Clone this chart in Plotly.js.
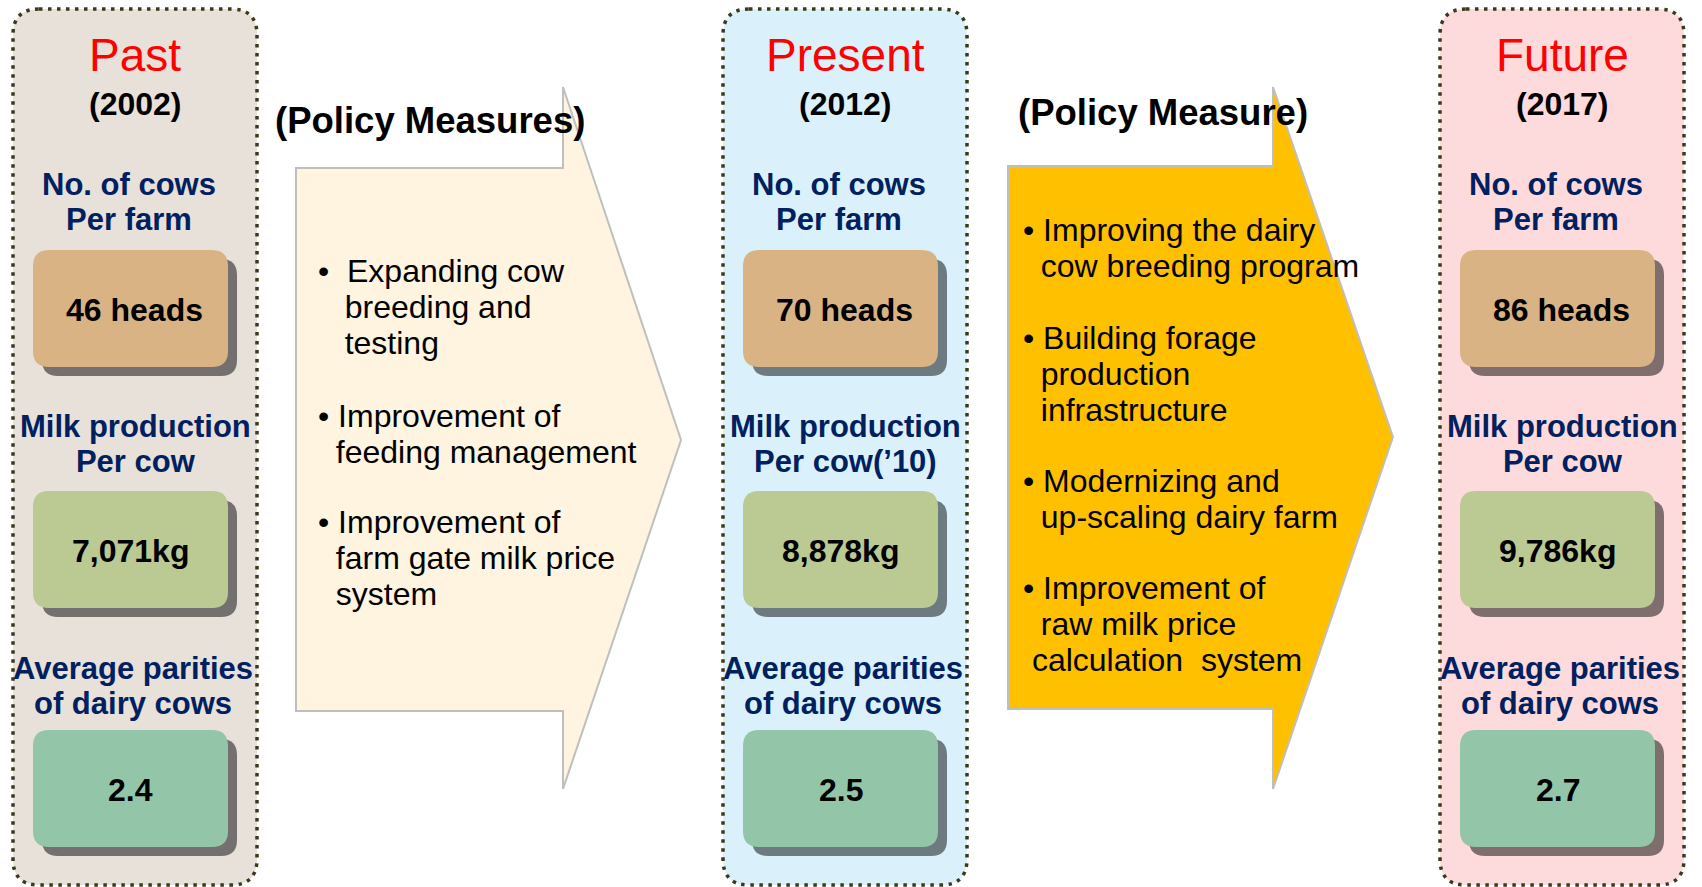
<!DOCTYPE html>
<html>
<head>
<meta charset="utf-8">
<script src="https://cdn.plot.ly/plotly-3.0.1.min.js"></script>
<style>
  html, body { margin: 0; padding: 0; background: #ffffff; }
  #chart { width: 1702px; height: 887px; }
</style>
</head>
<body>
<div id="chart"></div>
<script>
// Dairy farm indicators for each period
const periods = ["Past", "Present", "Future"];
const years = ["(2002)", "(2012)", "(2017)"];
const cowsPerFarm = [46, 70, 86];
const milkPerCow = [7071, 8878, 9786];
const avgParities = [2.4, 2.5, 2.7];

// Indicator labels (one list per row, one entry per period)
const cowsLabels = [["No. of cows", "Per farm"], ["No. of cows", "Per farm"], ["No. of cows", "Per farm"]];
const milkLabels = [["Milk production", "Per cow"], ["Milk production", "Per cow(\u201910)"], ["Milk production", "Per cow"]];
const parityLabels = [["Average parities", "of dairy cows"], ["Average parities", "of dairy cows"], ["Average parities", "of dairy cows"]];

// Policy measures between the periods
const policy1Title = "(Policy Measures)";
const policy1Items = [
  ["Expanding cow", "breeding and", "testing"],
  ["Improvement of", "feeding management"],
  ["Improvement of", "farm gate milk price", "system"]
];
const policy2Title = "(Policy Measure)";
const policy2Items = [
  ["Improving the dairy", "cow breeding program"],
  ["Building forage", "production", "infrastructure"],
  ["Modernizing and", "up-scaling dairy farm"],
  ["Improvement of", "raw milk price", "calculation\u00a0\u00a0system"]
];

// ---- layout geometry (page pixels) ----
const W = 1702, H = 887;
const NAVY = "#002060";
const FONT = "'Liberation Sans', Arial, sans-serif";
const NB = "\u00a0";

const panelX = [13, 723, 1440];
const panelW = 244;
const panelY0 = 9, panelY1 = 885;
const panelFill = ["#E7E1DA", "#DAF1FB", "#FDDADB"];
const shadowColor = ["#747070", "#6D7A80", "#7F6E6E"];

const boxOffset = 20, boxW = 195, boxH = 117;
const boxTop = [250, 491, 730];
const boxFill = ["#D9B383", "#BBC993", "#93C6A9"];
const valueShiftX = [4, 0, 0];
const labelMidY = [202, 444, 686];
const labelShiftX = [-6, 0, -2];
const labelStep = 35;

function roundRect(x0, y0, x1, y1, r) {
  return `M${x0 + r},${y0} H${x1 - r} Q${x1},${y0} ${x1},${y0 + r} V${y1 - r} ` +
    `Q${x1},${y1} ${x1 - r},${y1} H${x0 + r} Q${x0},${y1} ${x0},${y1 - r} V${y0 + r} ` +
    `Q${x0},${y0} ${x0 + r},${y0} Z`;
}

function arrowPath(a) {
  return `M${a.left},${a.top} H${a.headX} V${a.headTop} L${a.tipX},${a.tipY} ` +
    `L${a.headX},${a.headBottom} V${a.bottom} H${a.left} Z`;
}

function text(x, y, str, size, color, bold, anchor) {
  return {
    x: x, y: y, xref: "x", yref: "y", text: str,
    showarrow: false, xanchor: anchor || "center", yanchor: "middle",
    font: { family: FONT, size: size, color: color, weight: bold ? "bold" : "normal" }
  };
}

// several lines in one text block; the base size sets the line step (1.3 em)
function block(x, y, lines, step, size, color, bold, anchor) {
  const a = text(x, y, lines.map((l) => `<span style="font-size:${size}px">${l}</span>`).join("<br>"),
    step / 1.3, color, bold, anchor);
  a.align = anchor === "left" ? "left" : "center";
  return a;
}

const shapes = [];
const annotations = [];

// Policy arrows
const arrows = [
  { left: 296, top: 168, bottom: 711, headX: 563, headTop: 87, headBottom: 789, tipX: 681, tipY: 440, fill: "#FEF4E0" },
  { left: 1008, top: 166, bottom: 709, headX: 1273, headTop: 87, headBottom: 789, tipX: 1393, tipY: 437, fill: "#FFC000" }
];
arrows.forEach((a) => {
  shapes.push({
    type: "path", xref: "x", yref: "y", path: arrowPath(a),
    fillcolor: a.fill, line: { color: "#BFBFBF", width: 2 }, layer: "below"
  });
});

// Period panels
periods.forEach((p, i) => {
  const x0 = panelX[i], x1 = x0 + panelW, cx = (x0 + x1) / 2;
  shapes.push({
    type: "path", xref: "x", yref: "y", path: roundRect(x0, panelY0, x1, panelY1, 26),
    fillcolor: panelFill[i], line: { color: "#3A3A18", width: 3.5, dash: "3.5px,5.5px" }, layer: "below"
  });

  annotations.push(text(cx, 55, p, 46, "#FF0000", false));
  annotations.push(text(cx, 104, years[i], 32, "#000000", true));

  const values = [
    cowsPerFarm[i] + " heads",
    milkPerCow[i].toLocaleString("en-US") + "kg",
    avgParities[i].toFixed(1)
  ];
  const labels = [cowsLabels[i], milkLabels[i], parityLabels[i]];

  values.forEach((v, r) => {
    const bx0 = x0 + boxOffset, bx1 = bx0 + boxW;
    const by0 = boxTop[r], by1 = by0 + boxH;
    shapes.push({
      type: "path", xref: "x", yref: "y", path: roundRect(bx0 + 9, by0 + 9, bx1 + 9, by1 + 9, 16),
      fillcolor: shadowColor[i], line: { width: 0 }, layer: "below"
    });
    shapes.push({
      type: "path", xref: "x", yref: "y", path: roundRect(bx0, by0, bx1, by1, 16),
      fillcolor: boxFill[r], line: { width: 0 }, layer: "below"
    });
    annotations.push(text((bx0 + bx1) / 2 + valueShiftX[r], (by0 + by1) / 2 + 1, v, 32, "#000000", true));
    annotations.push(block(cx + labelShiftX[r], labelMidY[r], labels[r], labelStep, 31, NAVY, true));
  });
});

// Policy text
annotations.push(text(430, 120, policy1Title, 36.5, "#000000", true));
annotations.push(text(1163, 112, policy2Title, 36.5, "#000000", true));

// bullet blocks: left edge, first line y, and indent (in spaces) of the wrapped lines
const bullets1 = { x: 316, startY: [271, 416, 522], lead: [2, 1, 1], indent: [[3, 3], [2], [2, 2]] };
const bullets2 = { x: 1021, startY: [230, 338, 481, 588], lead: [1, 1, 1, 1], indent: [[2], [2, 2], [2], [2, 1]] };
const lineStep = 36;

function addBullets(items, g) {
  items.forEach((lines, i) => {
    const rows = lines.map((line, k) =>
      k === 0 ? "\u2022" + NB.repeat(g.lead[i]) + line : NB.repeat(g.indent[i][k - 1]) + line);
    const midY = g.startY[i] + (lines.length - 1) * lineStep / 2;
    annotations.push(block(g.x, midY, rows, lineStep, 32, "#000000", false, "left"));
  });
}
addBullets(policy1Items, bullets1);
addBullets(policy2Items, bullets2);

const layout = {
  width: W,
  height: H,
  margin: { l: 0, r: 0, t: 0, b: 0 },
  paper_bgcolor: "#ffffff",
  plot_bgcolor: "#ffffff",
  showlegend: false,
  xaxis: { range: [0, W], visible: false, fixedrange: true },
  yaxis: { range: [H, 0], visible: false, fixedrange: true },
  shapes: shapes,
  annotations: annotations
};

Plotly.newPlot("chart", [], layout, { displayModeBar: false, staticPlot: true });
</script>
</body>
</html>
